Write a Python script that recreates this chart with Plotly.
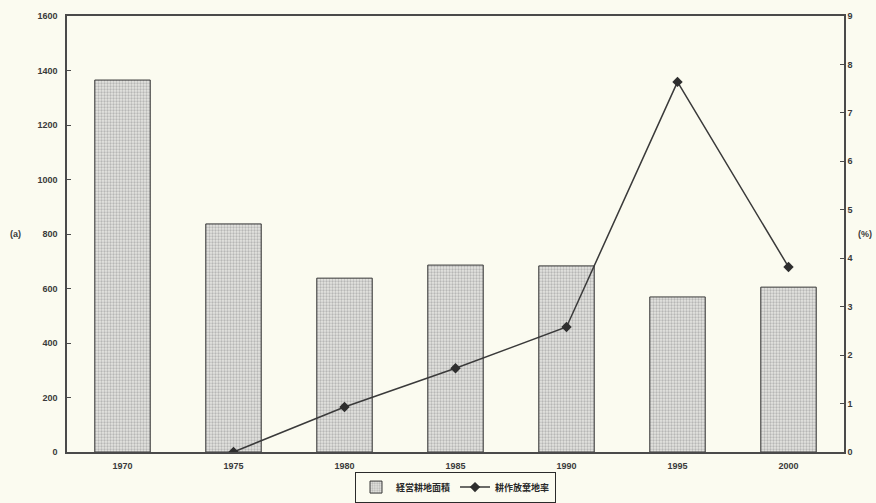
import plotly.graph_objects as go

years = ["1970", "1975", "1980", "1985", "1990", "1995", "2000"]
area_a = [1365, 837, 638, 686, 683, 569, 605]          # 経営耕地面積 (a)
abandon_rate = [None, 0.0, 0.93, 1.73, 2.58, 7.64, 3.82]  # 耕作放棄地率 (%)

left_ticks = [0, 200, 400, 600, 800, 1000, 1200, 1400, 1600]
right_ticks = list(range(0, 10))

font_main = dict(family="Liberation Sans, Arial", size=9, color="#3a3a3a", weight="bold")

fig = go.Figure()
fig.add_trace(go.Bar(
    x=years, y=area_a, name="経営耕地面積",
    width=0.5,
    marker=dict(
        color="#e4e4e0",
        line=dict(color="#3a3a3a", width=1),
        pattern=dict(shape=".", fgcolor="#8a8a8a", bgcolor="#e4e4e0", size=3, solidity=0.45),
    ),
    yaxis="y",
))
fig.add_trace(go.Scatter(
    x=years, y=abandon_rate, name="耕作放棄地率",
    mode="lines+markers",
    line=dict(color="#3a3a3a", width=1.5),
    marker=dict(symbol="diamond", size=8, color="#2e2e2e"),
    yaxis="y2",
    connectgaps=False,
))

fig.update_layout(
    width=876, height=503,
    margin=dict(l=67, r=32, t=16, b=51, autoexpand=False),
    paper_bgcolor="#fbfbf0",
    plot_bgcolor="#fbfbf0",
    font=font_main,
    bargap=0.5,
    showlegend=True,
    legend=dict(
        orientation="h", x=0.5, xanchor="center", y=-0.116, yanchor="bottom",
        bordercolor="#2a2a2a", borderwidth=1, bgcolor="#fbfbf0",
        font=dict(family="Noto Sans CJK JP", size=9, color="#2a2a2a", weight="bold"),
        itemwidth=30, tracegroupgap=0,
    ),
    xaxis=dict(
        type="category", showline=True, linecolor="#4a4a4a", linewidth=1.5,
        mirror=True, ticks="", showgrid=False, tickfont=font_main,
        ticklabelstandoff=4,
    ),
    yaxis=dict(
        range=[0, 1600], tickvals=left_ticks, showgrid=False, zeroline=False,
        showline=True, linecolor="#4a4a4a", linewidth=1.5,
        ticks="inside", ticklen=4, tickcolor="#4a4a4a",
        tickfont=font_main, ticklabelstandoff=6,
    ),
    yaxis2=dict(
        range=[0, 9], tickvals=right_ticks, overlaying="y", side="right",
        showgrid=False, zeroline=False, showline=True, linecolor="#4a4a4a", linewidth=1.5,
        ticks="inside", ticklen=4, tickcolor="#4a4a4a",
        tickfont=font_main,
    ),
    annotations=[
        dict(text="(a)", xref="paper", yref="paper", x=-0.066, y=0.5,
             showarrow=False, font=font_main, xanchor="center"),
        dict(text="(%)", xref="paper", x=1.0, xshift=30, yref="paper", y=0.5,
             showarrow=False, font=font_main, xanchor="right"),
    ],
)

fig.write_html("out.html")
